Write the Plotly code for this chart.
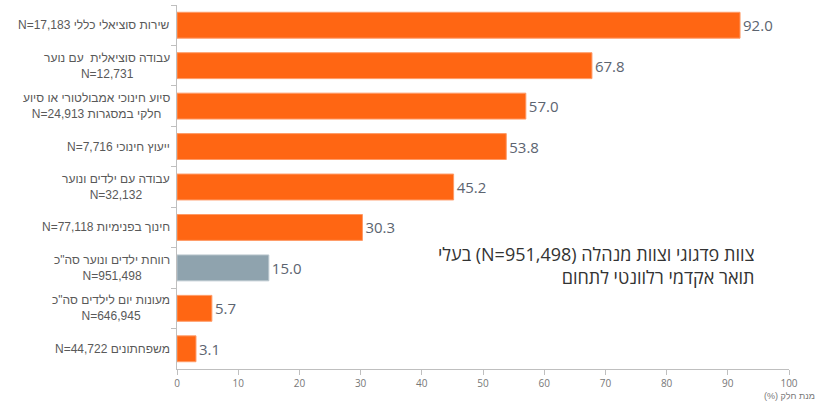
import plotly.graph_objects as go

# Data (top to bottom)
categories = [
    "N=17,183 שירות סוציאלי כללי",
    "עבודה סוציאלית  עם נוער<br>N=12,731",
    "סיוע חינוכי אמבולטורי או סיוע<br>N=24,913 חלקי במסגרות",
    "N=7,716 ייעוץ חינוכי",
    "עבודה עם ילדים ונוער<br>N=32,132",
    "N=77,118 חינוך בפנימיות",
    "רווחת ילדים ונוער סה\"כ<br>N=951,498",
    "מעונות יום לילדים סה\"כ<br>N=646,945",
    "N=44,722 משפחתונים",
]
values = [92.0, 67.8, 57.0, 53.8, 45.2, 30.3, 15.0, 5.7, 3.1]
highlight_index = 6
x_ticks = [0, 10, 20, 30, 40, 50, 60, 70, 80, 90, 100]
x_title = "(%) מנת חלק"
note_text = "בעלי (N=951,498) צוות פדגוגי וצוות מנהלה<br>תואר אקדמי רלוונטי לתחום"

ORANGE = "#FF6613"
GRAY = "#8FA3AE"
colors = [GRAY if i == highlight_index else ORANGE for i in range(len(values))]
line_colors = ["#B9C6CD" if i == highlight_index else "#FF9A66" for i in range(len(values))]

fig = go.Figure()
fig.add_trace(go.Bar(
    y=categories,
    x=values,
    orientation="h",
    marker=dict(color=colors, line=dict(color=line_colors, width=1)),
    text=[f"{v:.1f}" for v in values],
    textposition="outside",
    textfont=dict(family="Open Sans", size=15, color="#5C6470"),
    cliponaxis=False,
    hoverinfo="skip",
))

annotations = []
for c in categories:
    annotations.append(dict(
        x=-0.008, xref="paper", y=c, yref="y",
        text=c, showarrow=False, xanchor="right", yanchor="middle",
        align="center",
        font=dict(family="Liberation Sans, Arial", size=12, color="#595959"),
    ))

annotations.append(dict(
    x=0.948, xref="paper", y=0.285, yref="paper",
    text=note_text, showarrow=False, xanchor="right", yanchor="middle",
    align="right",
    font=dict(family="Open Sans, Liberation Sans", size=18, color="#333333"),
))
annotations.append(dict(
    x=1.0, xref="paper", y=-0.056, yref="paper",
    text=x_title, showarrow=False, xanchor="center", yanchor="top",
    font=dict(family="Liberation Sans, Arial", size=9, color="#777777"),
))

fig.update_layout(
    width=818, height=401,
    margin=dict(l=177, r=29, t=5, b=32),
    paper_bgcolor="white", plot_bgcolor="white",
    bargap=0.36,
    showlegend=False,
    annotations=annotations,
    xaxis=dict(
        range=[0, 100], tickvals=x_ticks, showgrid=False, zeroline=False,
        showline=True, linecolor="#BFBFBF", linewidth=1,
        ticks="outside", ticklen=5, tickcolor="#BFBFBF",
        tickfont=dict(family="Open Sans", size=10, color="#777777"),
    ),
    yaxis=dict(
        autorange="reversed", showgrid=False, zeroline=False,
        showline=True, linecolor="#BFBFBF", linewidth=1,
        ticks="outside", ticklen=5, tickcolor="#BFBFBF", tickson="boundaries",
        showticklabels=False,
    ),
)

fig.write_html("out.html", config={"displayModeBar": False},
               post_script="document.body.style.margin='0px';")
